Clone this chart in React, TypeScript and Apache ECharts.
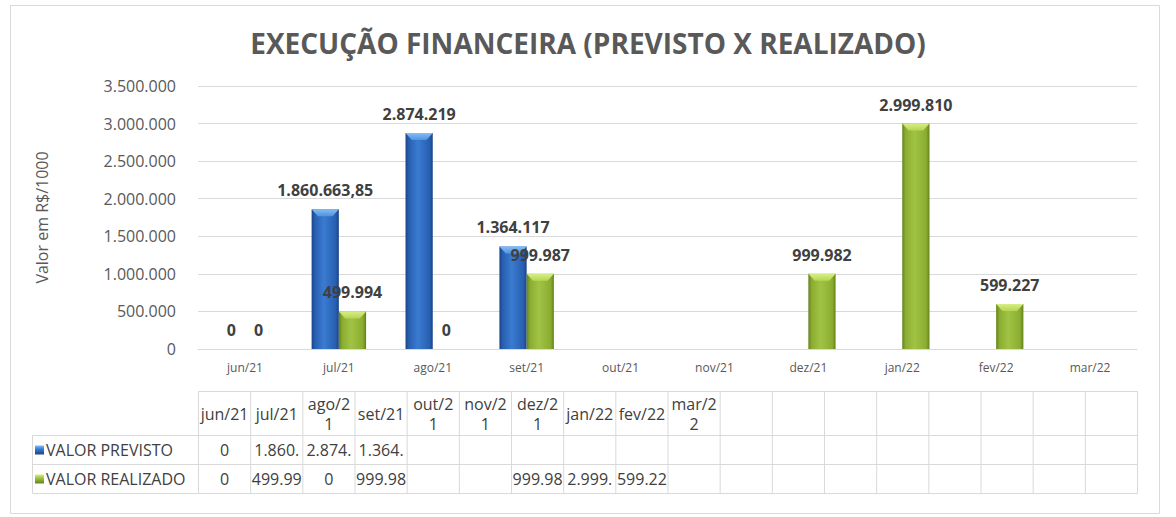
import React, { useEffect, useRef } from "react";
import * as echarts from "echarts";

// ---------------- data ----------------
const chartTitle = "EXECUÇÃO FINANCEIRA (PREVISTO X REALIZADO)";
const yAxisTitle = "Valor em R$/1000";
const categories = ["jun/21", "jul/21", "ago/21", "set/21", "out/21", "nov/21", "dez/21", "jan/22", "fev/22", "mar/22"];
const seriesNames = ["VALOR PREVISTO", "VALOR REALIZADO"];
const previsto: (number | null)[] = [0, 1860663.85, 2874219, 1364117, null, null, null, null, null, null];
const realizado: (number | null)[] = [0, 499994, 0, 999987, null, null, 999982, 2999810, 599227, null];
const yMin = 0;
const yMax = 3500000;
const yInterval = 500000;
// data-table header texts as Excel wraps them in the narrow cells
const tableHeaderLabels = ["jun/21", "jul/21", "ago/2\n1", "set/21", "out/2\n1", "nov/2\n1", "dez/2\n1", "jan/22", "fev/22", "mar/2\n2"];
const tableEmptyColumns = 8;
const tableCellChars = 6;

// ---------------- styles ----------------
const FONT = '"Open Sans", "Noto Sans", sans-serif';
const palettes = [
  { dark: "#1A4386", mid: "#285FB0", light: "#3A7BD1", bevTop: "#86BDF4", bevBot: "#4F93E2" },
  { dark: "#64821A", mid: "#8AAC30", light: "#A1C345", bevTop: "#D7EE84", bevBot: "#B5D552" },
];
const GRID = { left: 198, right: 39, top: 86, bottom: 168 };
const TABLE = { left: 32.5, firstColRight: 198.5, right: 1137.5, top: 391.5, headerBottom: 435.5, row1Bottom: 464.5, bottom: 493.5 };
const HEADER_LINE_GAP = 20;
const LINE_COLOR = "#D9D9D9";

function groupThousands(s: string) {
  return s.replace(/\B(?=(\d{3})+(?!\d))/g, ".");
}
function formatBR(v: number) {
  if (Number.isInteger(v)) return groupThousands(String(v));
  const [i, d] = v.toFixed(2).split(".");
  return groupThousands(i) + "," + d;
}
function tableCellText(v: number | null) {
  if (v == null) return "";
  return groupThousands(String(Math.round(v))).slice(0, tableCellChars);
}

function makeRenderItem(slot: number) {
  const pal = palettes[slot];
  return (params: any, api: any) => {
    const idx = api.value(0);
    const v = api.value(1);
    const base = api.coord([idx, 0]);
    const topPt = api.coord([idx, v]);
    const band = api.size([1, 0])[0];
    const w = band * 0.29;
    const x0 = base[0] - w + slot * w;
    const yTop = topPt[1];
    const h = base[1] - yTop;
    const children: any[] = [];
    if (h > 0.5) {
      const b = Math.min(7, h / 2);
      children.push({
        type: "rect",
        shape: { x: x0, y: yTop, width: w, height: h },
        style: {
          fill: new echarts.graphic.LinearGradient(0, 0, 1, 0, [
            { offset: 0, color: pal.dark },
            { offset: 0.12, color: pal.mid },
            { offset: 0.45, color: pal.light },
            { offset: 0.88, color: pal.mid },
            { offset: 1, color: pal.dark },
          ]),
        },
      });
      children.push({
        type: "polygon",
        shape: {
          points: [
            [x0, yTop],
            [x0 + w, yTop],
            [x0 + w - b * 0.9, yTop + b],
            [x0 + b * 0.9, yTop + b],
          ],
        },
        style: {
          fill: new echarts.graphic.LinearGradient(0, 0, 0, 1, [
            { offset: 0, color: pal.bevTop },
            { offset: 1, color: pal.bevBot },
          ]),
        },
      });
    }
    children.push({
      type: "text",
      x: x0 + w / 2,
      y: yTop - 11,
      style: {
        text: formatBR(v),
        fill: "#404040",
        font: `bold 16px ${FONT}`,
        align: "center",
        verticalAlign: "bottom",
        textAlign: "center",
        textVerticalAlign: "bottom",
      },
    });
    return { type: "group", children };
  };
}

function buildTableGraphics() {
  const els: any[] = [];
  const nCols = categories.length + tableEmptyColumns;
  const colW = (TABLE.right - TABLE.firstColRight) / nCols;
  const line = (x1: number, y1: number, x2: number, y2: number) => ({
    type: "line",
    silent: true,
    shape: { x1, y1, x2, y2 },
    style: { stroke: LINE_COLOR, lineWidth: 1 },
  });
  // horizontal lines
  els.push(line(TABLE.firstColRight, TABLE.top, TABLE.right, TABLE.top));
  [TABLE.headerBottom, TABLE.row1Bottom, TABLE.bottom].forEach((y) => els.push(line(TABLE.left, y, TABLE.right, y)));
  // vertical lines
  els.push(line(TABLE.left, TABLE.headerBottom, TABLE.left, TABLE.bottom));
  for (let i = 0; i <= nCols; i++) {
    const x = TABLE.firstColRight + i * colW;
    els.push(line(x, TABLE.top, x, TABLE.bottom));
  }
  const txt = (text: string, x: number, y: number, align: string) => ({
    type: "text",
    silent: true,
    x,
    y,
    style: {
      text,
      fill: "#404040",
      font: `16px ${FONT}`,
      align,
      verticalAlign: "middle",
      textAlign: align,
      textVerticalAlign: "middle",
    },
  });
  // header (wrapped labels drawn line by line)
  const headerMid = (TABLE.top + TABLE.headerBottom) / 2;
  tableHeaderLabels.forEach((lab, i) => {
    const lines = lab.split("\n");
    const cx = TABLE.firstColRight + (i + 0.5) * colW;
    lines.forEach((ln, k) => {
      const y = headerMid + (k - (lines.length - 1) / 2) * HEADER_LINE_GAP;
      els.push(txt(ln, cx, y, "center"));
    });
  });
  // rows
  const rows = [previsto, realizado];
  const rowMid = [(TABLE.headerBottom + TABLE.row1Bottom) / 2, (TABLE.row1Bottom + TABLE.bottom) / 2];
  rows.forEach((vals, r) => {
    const pal = palettes[r];
    els.push({
      type: "rect",
      silent: true,
      shape: { x: 35, y: rowMid[r] - 4.5, width: 9, height: 9 },
      style: {
        fill: new echarts.graphic.LinearGradient(0, 0, 0, 1, [
          { offset: 0, color: pal.bevTop },
          { offset: 0.4, color: pal.light },
          { offset: 1, color: pal.dark },
        ]),
      },
    });
    els.push(txt(seriesNames[r], 46, rowMid[r], "left"));
    vals.forEach((v, i) => {
      const t = tableCellText(v);
      if (t) els.push(txt(t, TABLE.firstColRight + (i + 0.5) * colW, rowMid[r], "center"));
    });
  });
  return els;
}

export default function App() {
  const ref = useRef<HTMLDivElement>(null);
  useEffect(() => {
    if (!ref.current) return;
    const chart = echarts.init(ref.current, undefined, { renderer: "svg" });
    const option: any = {
      animation: false,
      backgroundColor: "#FFFFFF",
      textStyle: { fontFamily: FONT },
      grid: { ...GRID, containLabel: false },
      xAxis: {
        type: "category",
        data: categories,
        axisLine: { lineStyle: { color: LINE_COLOR } },
        axisTick: { show: false },
        axisLabel: { color: "#595959", fontSize: 12, margin: 12, fontFamily: FONT },
      },
      yAxis: {
        type: "value",
        min: yMin,
        max: yMax,
        interval: yInterval,
        name: yAxisTitle,
        nameLocation: "middle",
        nameRotate: 90,
        nameGap: 148,
        nameTextStyle: { color: "#595959", fontSize: 16, fontFamily: FONT },
        axisLine: { show: false },
        axisTick: { show: false },
        axisLabel: {
          color: "#595959",
          fontSize: 16,
          margin: 22,
          fontFamily: FONT,
          formatter: (v: number) => groupThousands(String(v)),
        },
        splitLine: { lineStyle: { color: LINE_COLOR } },
      },
      series: [previsto, realizado].map((vals, s) => ({
        type: "custom",
        name: seriesNames[s],
        renderItem: makeRenderItem(s),
        encode: { x: 0, y: 1 },
        data: vals.map((v, i) => [i, v]).filter((d) => d[1] != null),
      })),
      graphic: [
        {
          type: "rect",
          silent: true,
          z: -1,
          shape: { x: 10.5, y: 5.5, width: 1149, height: 508 },
          style: { fill: "none", stroke: LINE_COLOR, lineWidth: 1 },
        },
        {
          type: "text",
          silent: true,
          x: 588,
          y: 43,
          style: {
            text: chartTitle,
            fill: "#595959",
            font: `bold 28px ${FONT}`,
            align: "center",
            verticalAlign: "middle",
            textAlign: "center",
            textVerticalAlign: "middle",
          },
        },
        ...buildTableGraphics(),
      ],
    };
    chart.setOption(option);
    return () => chart.dispose();
  }, []);
  return (
    <div
      ref={ref}
      style={{ position: "absolute", left: 0, top: 0, width: 1176, height: 517, background: "#fff" }}
    />
  );
}
